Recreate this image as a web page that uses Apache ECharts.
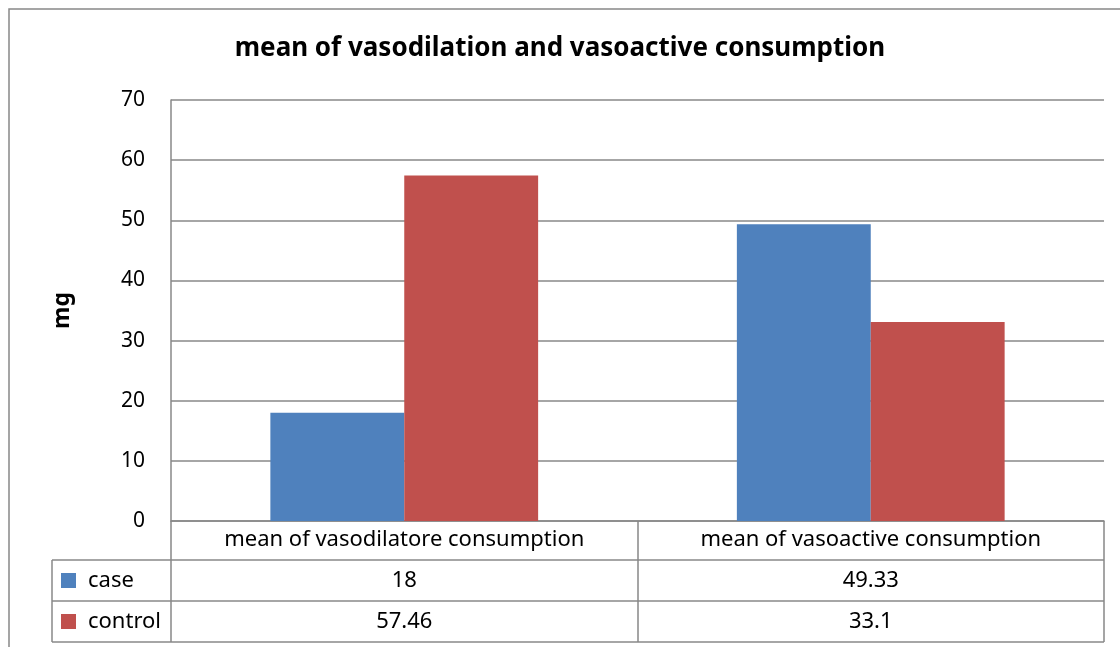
<!DOCTYPE html>
<html><head><meta charset="utf-8">
<script src="https://cdn.jsdelivr.net/npm/echarts@6/dist/echarts.min.js"></script>
<style>html,body{margin:0;padding:0;background:#fff}#c{width:1120px;height:647px}</style>
</head><body><div id="c"></div>
<script>
const categories = ['mean of vasodilatore consumption', 'mean of vasoactive consumption'];
const seriesNames = ['case', 'control'];
const caseValues = [18, 49.33];
const controlValues = [57.46, 33.1];
const tableLabels = [['18', '49.33'], ['57.46', '33.1']];
const colors = ['#4F81BD', '#C0504D'];
const FONT = 'Noto Sans';
const chart = echarts.init(document.getElementById('c'));
const option = {
  animation: false,
  title: { text: 'mean of vasodilation and vasoactive consumption', left: 'center', top: 31,
    textStyle: { fontFamily: FONT, fontSize: 26, fontWeight: 'bold', color: '#000' } },
  grid: { left: 171, right: 16, top: 100, bottom: 126 },
  xAxis: { type: 'category', data: categories,
    axisLine: { lineStyle: { color: '#888', width: 1.5 } },
    axisTick: { show: true, interval: 0, length: 121, lineStyle: { color: '#888', width: 1.5 } },
    axisLabel: { interval: 0, hideOverlap: false, fontFamily: FONT, fontSize: 22, color: '#000', margin: 8 } },
  yAxis: { type: 'value', min: 0, max: 70, interval: 10, name: 'mg', nameLocation: 'middle', nameGap: 97, nameRotate: 90,
    nameTextStyle: { fontFamily: FONT, fontSize: 23, fontWeight: 'bold', color: '#000' },
    axisLine: { show: true, lineStyle: { color: '#888', width: 1.5 } },
    axisTick: { show: false },
    splitLine: { lineStyle: { color: '#888', width: 1.5 } },
    axisLabel: { fontFamily: FONT, fontSize: 21, color: '#000', margin: 26 } },
  series: [
    { name: seriesNames[0], type: 'bar', data: caseValues, itemStyle: { color: colors[0] }, barGap: 0, barCategoryGap: '42.6%' },
    { name: seriesNames[1], type: 'bar', data: controlValues, itemStyle: { color: colors[1] }, barGap: 0, barCategoryGap: '42.6%' }
  ]
};
chart.setOption(option);
const g = [];
const L = '#888';
const rowY = [560, 601, 642];
g.push({ type: 'rect', shape: { x: 9, y: 9, width: 1200, height: 700 }, style: { fill: 'none', stroke: '#888', lineWidth: 1.5 }, silent: true });
rowY.forEach(y => g.push({ type: 'line', shape: { x1: 52, y1: y, x2: 1104, y2: y }, style: { stroke: L, lineWidth: 1.5 } }));
g.push({ type: 'line', shape: { x1: 52, y1: 560, x2: 52, y2: 642 }, style: { stroke: L, lineWidth: 1.5 } });
seriesNames.forEach((n, i) => {
  const cy = (rowY[i] + rowY[i + 1]) / 2;
  g.push({ type: 'rect', shape: { x: 61, y: cy - 7.5, width: 15, height: 15 }, style: { fill: colors[i] } });
  g.push({ type: 'text', x: 88, y: cy, style: { text: n, fontFamily: FONT, fontSize: 22, fill: '#000', verticalAlign: 'middle', align: 'left' } });
  categories.forEach((c, j) => {
    const px = chart.convertToPixel({ xAxisIndex: 0 }, j);
    g.push({ type: 'text', x: px, y: cy, style: { text: tableLabels[i][j], fontFamily: FONT, fontSize: 22, fill: '#000', verticalAlign: 'middle', align: 'center' } });
  });
});
chart.setOption({ graphic: g });
</script></body></html>
